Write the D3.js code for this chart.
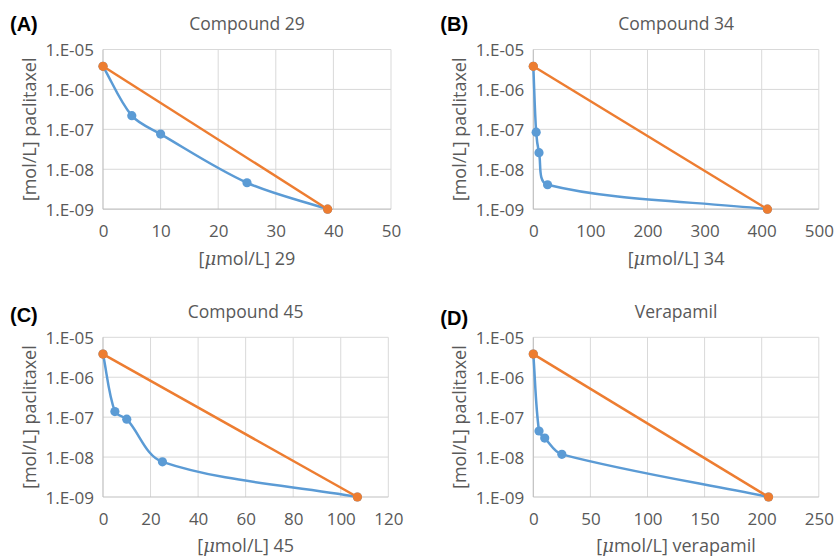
<!DOCTYPE html>
<html>
<head>
<meta charset="utf-8">
<script src="https://cdn.jsdelivr.net/npm/d3@7"></script>
<style>
  body { margin: 0; background: #fff; }
  svg { display: block; }
</style>
</head>
<body>
<div id="chart"></div>
<script>
(function () {

  'use strict';

  const FONT_FAMILY = '"Open Sans", sans-serif';
  const TEXT_COLOR = '#595959';
  const BLUE = '#5B9BD5';
  const ORANGE = '#ED7D31';

  // Panel texts.
  const panelLabels = ['(A)', '(B)', '(C)', '(D)'];
  const titles = ['Compound 29', 'Compound 34', 'Compound 45', 'Verapamil'];
  const xTitles = ['29', '34', '45', 'verapamil'];
  const yTitle = '[mol/L] paclitaxel';

  // Axis ranges.
  const xMax = [50, 500, 120, 250];
  const xStep = [10, 100, 20, 50];
  const yTicks = [1e-5, 1e-6, 1e-7, 1e-8, 1e-9];

  // Blue series (measured, smoothed line).
  const blueX = [
    [0, 5, 10, 25, 39],
    [0, 5, 10, 25, 410],
    [0, 5, 10, 25, 107],
    [0, 5, 10, 25, 206]
  ];
  const blueY = [
    [3.8e-6, 2.2e-7, 7.6e-8, 4.6e-9, 1e-9],
    [3.8e-6, 8.5e-8, 2.6e-8, 4.1e-9, 1e-9],
    [3.8e-6, 1.38e-7, 8.9e-8, 7.6e-9, 1e-9],
    [3.8e-6, 4.5e-8, 3.0e-8, 1.17e-8, 1e-9]
  ];

  // Orange series (additive line).
  const orangeX = [
    [0, 39],
    [0, 410],
    [0, 107],
    [0, 206]
  ];
  const orangeY = [3.8e-6, 1e-9];

  // Plot area boxes in page pixels.
  const boxLeft = [103, 533.3, 103, 533.3];
  const boxTop = [49.5, 49.5, 337.3, 337.3];
  const boxWidth = [288, 285.5, 285.3, 285.5];
  const boxHeight = 159.7;
  const labelY = [30.5, 31, 322, 325];

  let svg = d3.select('#chart')
    .append('svg')
    .attr('width', 835)
    .attr('height', 557)
    .style('font-family', FONT_FAMILY);

  let formatExp = function (d) {
    let e = -Math.round(Math.log10(d));
    return '1.E-' + String(e).padStart(2, '0');
  };

  // Smoothed line like a spreadsheet: tangent from the two neighbours,
  // split in proportion to the lengths of the adjoining segments.
  let smoothPath = function (pts) {
    let dist = (a, b) => Math.hypot(b[0] - a[0], b[1] - a[1]);
    let n = pts.length;
    let before = [], after = [];
    for (let i = 0; i < n; i++) {
      let prev = pts[Math.max(i - 1, 0)];
      let next = pts[Math.min(i + 1, n - 1)];
      let tx = next[0] - prev[0], ty = next[1] - prev[1];
      let dp = i > 0 ? dist(pts[i - 1], pts[i]) : 0;
      let dn = i < n - 1 ? dist(pts[i], pts[i + 1]) : 0;
      let s = dp + dn || 1;
      before.push([pts[i][0] - tx * dp / s / 3, pts[i][1] - ty * dp / s / 3]);
      after.push([pts[i][0] + tx * dn / s / 3, pts[i][1] + ty * dn / s / 3]);
    }
    let path = d3.path();
    path.moveTo(pts[0][0], pts[0][1]);
    for (let i = 1; i < n; i++) {
      path.bezierCurveTo(after[i - 1][0], after[i - 1][1],
        before[i][0], before[i][1], pts[i][0], pts[i][1]);
    }
    return path.toString();
  };

  panelLabels.forEach(function (label, p) {
    let width = boxWidth[p];
    let height = boxHeight;

    let g = svg.append('g')
      .attr('transform', 'translate(' + boxLeft[p] + ',' + boxTop[p] + ')');

    let x = d3.scaleLinear().domain([0, xMax[p]]).range([0, width]);
    let y = d3.scaleLog().domain([1e-9, 1e-5]).range([height, 0]);
    let xTicks = d3.range(0, xMax[p] + xStep[p] / 2, xStep[p]);

    // Gridlines.
    g.append('g')
      .selectAll('line')
      .data(xTicks.slice(1))
      .enter()
      .append('line')
      .attr('x1', d => x(d)).attr('x2', d => x(d))
      .attr('y1', 0).attr('y2', height)
      .style('stroke', '#d9d9d9')
      .style('stroke-width', 1);

    g.append('g')
      .selectAll('line')
      .data(yTicks.slice(0, 4))
      .enter()
      .append('line')
      .attr('x1', 0).attr('x2', width)
      .attr('y1', d => y(d)).attr('y2', d => y(d))
      .style('stroke', '#d9d9d9')
      .style('stroke-width', 1);

    // Axis lines.
    g.append('line')
      .attr('x1', 0).attr('x2', 0).attr('y1', 0).attr('y2', height)
      .style('stroke', '#bfbfbf').style('stroke-width', 1.2);
    g.append('line')
      .attr('x1', 0).attr('x2', width).attr('y1', height).attr('y2', height)
      .style('stroke', '#bfbfbf').style('stroke-width', 1.2);

    // Axes (labels only).
    let xAxis = g.append('g')
      .attr('transform', 'translate(0,' + height + ')')
      .call(d3.axisBottom(x).tickValues(xTicks).tickSize(0).tickPadding(0).tickFormat(d3.format('d')));
    xAxis.select('.domain').remove();
    xAxis.selectAll('text')
      .attr('y', 27.5).attr('dy', null)
      .style('font-size', '17px')
      .style('font-family', FONT_FAMILY)
      .style('fill', TEXT_COLOR);

    let yAxis = g.append('g')
      .call(d3.axisLeft(y).tickValues(yTicks).tickSize(0).tickPadding(9).tickFormat(formatExp));
    yAxis.select('.domain').remove();
    yAxis.selectAll('text')
      .attr('dy', '0.36em')
      .style('font-size', '17px')
      .style('font-family', FONT_FAMILY)
      .style('fill', TEXT_COLOR);

    // Series.
    let blue = blueX[p].map((d, i) => [x(d), y(blueY[p][i])]);
    let orange = orangeX[p].map((d, i) => [x(d), y(orangeY[i])]);

    g.append('path')
      .attr('d', smoothPath(blue))
      .style('fill', 'none')
      .style('stroke', BLUE)
      .style('stroke-width', 2.5);

    g.selectAll('circle.blue')
      .data(blue)
      .enter()
      .append('circle')
      .attr('class', 'blue')
      .attr('cx', d => d[0]).attr('cy', d => d[1]).attr('r', 4.6)
      .style('fill', BLUE);

    g.append('path')
      .attr('d', d3.line()(orange))
      .style('fill', 'none')
      .style('stroke', ORANGE)
      .style('stroke-width', 2.5);

    g.selectAll('circle.orange')
      .data(orange)
      .enter()
      .append('circle')
      .attr('class', 'orange')
      .attr('cx', d => d[0]).attr('cy', d => d[1]).attr('r', 4.6)
      .style('fill', ORANGE);

    // Titles.
    g.append('text')
      .attr('x', width / 2).attr('y', -19.5)
      .attr('text-anchor', 'middle')
      .style('font-size', '17.5px')
      .style('fill', TEXT_COLOR)
      .text(titles[p]);

    let xt = g.append('text')
      .attr('x', width / 2).attr('y', height + 55.5)
      .attr('text-anchor', 'middle')
      .style('font-size', '18px')
      .style('fill', TEXT_COLOR);
    xt.append('tspan').text('[');
    xt.append('tspan')
      .style('font-family', '"DejaVu Serif", serif')
      .style('font-style', 'italic')
      .text('\u03bc');
    xt.append('tspan').text('mol/L] ' + xTitles[p]);

    g.append('text')
      .attr('transform', 'translate(-67,' + (height / 2) + ') rotate(-90)')
      .attr('text-anchor', 'middle')
      .style('font-size', '18px')
      .style('fill', TEXT_COLOR)
      .text(yTitle);

    // Panel letter.
    svg.append('text')
      .attr('x', boxLeft[p] - 93)
      .attr('y', labelY[p])
      .style('font-family', '"Liberation Sans", Arial, sans-serif')
      .style('font-weight', 'bold')
      .style('font-size', '20px')
      .style('fill', '#000')
      .text(label);
  });

}());
</script>
</body>
</html>
